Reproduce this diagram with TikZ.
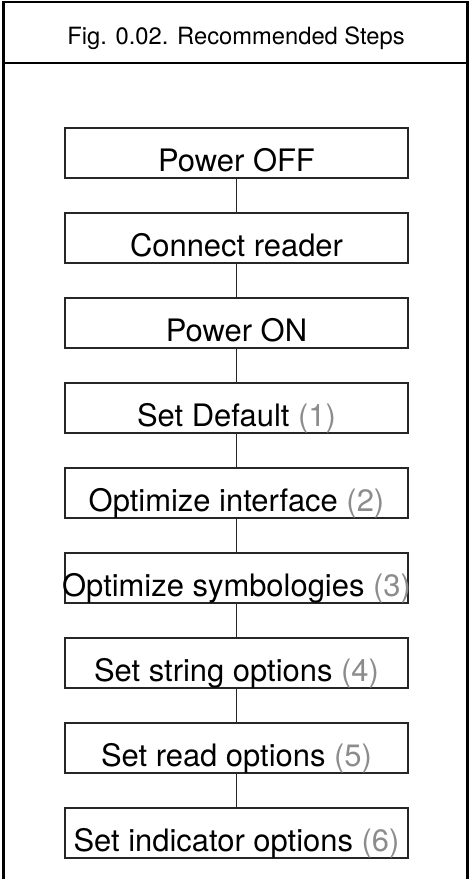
\documentclass[tikz,border=0pt]{standalone}
\usepackage{fontspec}
\setmainfont{TeX Gyre Heros}
\usepackage{tikz}

\begin{document}
\begin{tikzpicture}[x=0.75pt,y=-0.75pt,
   stepbox/.style={draw=black!85,line width=1pt,inner sep=0pt,
      minimum width=257.25pt,text height=32.25pt,text depth=5.25pt,
      font=\fontsize{23.2}{28}\selectfont},
   link/.style={draw=black!85,line width=1pt}]
   \def\nr#1{\textcolor{black!45}{(#1)}}
   \useasboundingbox (0,0) rectangle (470,879);
   % frame and title
   \draw[line width=1.8pt] (3.5,879) -- (3.5,2) -- (467.5,2) -- (467.5,879);
   \draw[line width=1.5pt] (3.5,63) -- (467.5,63);
   \node[font=\fontsize{17.8}{21}\selectfont,anchor=base] (title) at (236,44) {Fig. 0.02. Recommended Steps};
   % steps
   \node[stepbox] (off)  at (236.5,153) {Power OFF};
   \node[stepbox] (conn) at (236.5,238) {Connect reader};
   \node[stepbox] (on)   at (236.5,323) {Power ON};
   \node[stepbox] (dflt) at (236.5,408) {Set Default \nr{1}};
   \node[stepbox] (intf) at (236.5,493) {Optimize interface \nr{2}};
   \node[stepbox] (symb) at (236.5,578) {\makebox[257.25pt]{Optimize symbologies \nr{3}}};
   \node[stepbox] (strg) at (236.5,663) {Set string options \nr{4}};
   \node[stepbox] (read) at (236.5,748) {Set read options \nr{5}};
   \node[stepbox] (indc) at (236.5,833) {Set indicator options \nr{6}};
   % links
   \draw[link] (off) -- (conn);
   \draw[link] (conn) -- (on);
   \draw[link] (on) -- (dflt);
   \draw[link] (dflt) -- (intf);
   \draw[link] (intf) -- (symb);
   \draw[link] (symb) -- (strg);
   \draw[link] (strg) -- (read);
   \draw[link] (read) -- (indc);
\end{tikzpicture}
\end{document}
